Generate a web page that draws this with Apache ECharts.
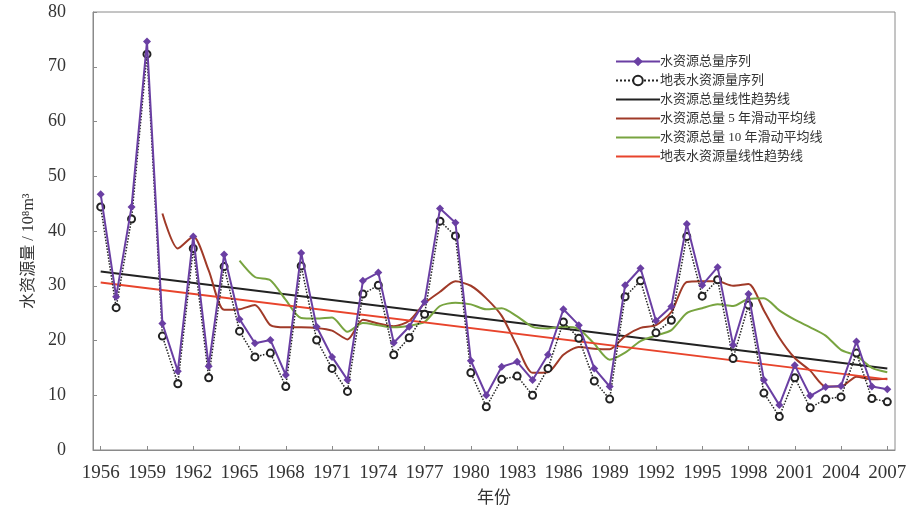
<!DOCTYPE html>
<html>
<head>
<meta charset="utf-8">
<script src="https://cdn.jsdelivr.net/npm/echarts@6/dist/echarts.min.js"></script>
<style>
html,body{margin:0;padding:0;background:#fff;}
#chart{width:914px;height:515px;}
</style>
</head>
<body>
<div id="chart"></div>
<script>
var years = [];
for (var y = 1956; y <= 2007; y++) years.push(String(y));

var seriesNames = ['水资源总量序列','地表水资源量序列','水资源总量线性趋势线','水资源总量 5 年滑动平均线','水资源总量 10 年滑动平均线','地表水资源量线性趋势线'];

var totalWater = [46.7,28.0,44.4,74.6,23.1,14.4,39.0,15.3,35.7,23.9,19.5,20.1,13.7,36.0,22.5,17.0,12.8,30.9,32.4,19.6,22.5,27.1,44.1,41.5,16.3,10.0,15.2,16.1,12.8,17.4,25.7,22.8,14.9,11.6,30.1,33.2,23.6,26.2,41.3,30.1,33.4,19.2,28.5,12.8,8.2,15.5,9.9,11.5,11.7,19.8,11.6,11.1];

var surfaceWater = [44.4,26.0,42.2,72.3,20.8,12.1,36.8,13.2,33.5,21.7,17.0,17.7,11.6,33.6,20.1,14.9,10.7,28.5,30.1,17.4,20.5,24.8,41.8,39.1,14.1,7.9,12.9,13.5,10.0,14.9,23.4,20.4,12.6,9.3,28.0,30.9,21.4,23.7,39.0,28.1,31.1,16.7,26.5,10.4,6.1,13.2,7.7,9.3,9.7,17.7,9.4,8.8];

var ma5 = [null,null,null,null,43.2,36.8,39.0,32.8,25.6,25.7,26.5,22.8,22.4,22.4,22.3,21.8,20.2,23.8,23.1,22.6,23.6,26.8,28.9,30.8,30.0,27.7,24.5,19.0,14.1,14.2,17.4,18.8,18.5,18.4,20.8,22.3,22.8,25.2,30.7,30.8,30.8,30.0,30.3,25.5,20.5,16.8,14.5,11.6,11.6,13.4,12.9,13.0];

var ma10 = [null,null,null,null,null,null,null,null,null,34.6,31.6,31.0,27.4,24.1,24.0,24.2,21.6,23.2,22.8,22.4,22.7,23.4,26.3,26.9,26.6,25.7,25.9,24.4,22.5,22.2,22.5,22.1,19.4,16.5,17.8,19.9,20.9,21.9,25.0,25.9,26.6,26.3,27.6,27.7,25.5,23.8,22.4,20.9,18.3,17.2,15.0,14.2];

// linear trend lines: values at first and last year
var totalTrendEnds = [32.6, 14.9];
var surfaceTrendEnds = [30.6, 12.9];

function endsToSeries(ends) {
  var arr = years.map(function(){ return null; });
  arr[0] = ends[0];
  arr[arr.length-1] = ends[1];
  return arr;
}

var serif = '"Liberation Serif","Times New Roman","Noto Sans CJK SC",serif';
var chart = echarts.init(document.getElementById('chart'));
chart.setOption({
  backgroundColor: '#ffffff',
  animation: false,
  grid: {left: 93, right: 19, top: 12, bottom: 65, show: true, borderColor: '#8a8a8a', borderWidth: 1, backgroundColor: '#fff'},
  legend: {
    orient: 'vertical', left: 610, top: 50,
    itemWidth: 44, itemHeight: 12, itemGap: 6,
    data: [
      {name: seriesNames[0]},
      {name: seriesNames[1], itemStyle: {color: '#222'}},
      {name: seriesNames[2], itemStyle: {opacity: 0}},
      {name: seriesNames[3], itemStyle: {opacity: 0}},
      {name: seriesNames[4], itemStyle: {opacity: 0}},
      {name: seriesNames[5], itemStyle: {opacity: 0}}
    ],
    textStyle: {fontFamily: serif, fontSize: 13, color: '#333', padding: [0,0,0,-5]}
  },
  xAxis: {
    type: 'category', data: years, boundaryGap: true,
    name: '年份', nameLocation: 'middle', nameGap: 40,
    nameTextStyle: {fontFamily: serif, fontSize: 17, color: '#333'},
    axisLine: {lineStyle: {color: '#8a8a8a'}},
    axisTick: {show: true, inside: true, length: 4, interval: 2, alignWithLabel: true, lineStyle: {color: '#8a8a8a'}},
    axisLabel: {interval: 2, margin: 14, fontFamily: serif, fontSize: 19, color: '#333'},
    splitLine: {show: false}
  },
  yAxis: {
    type: 'value', min: 0, max: 80, interval: 10,
    name: '水资源量 / 10⁸m³', nameLocation: 'middle', nameGap: 56, nameRotate: 90,
    nameTextStyle: {fontFamily: serif, fontSize: 16, color: '#333', padding: [0,0,0,-40]},
    axisLine: {show: true, lineStyle: {color: '#8a8a8a'}},
    axisTick: {show: true, inside: true, length: 4, lineStyle: {color: '#8a8a8a'}},
    axisLabel: {margin: 27, fontFamily: serif, fontSize: 18, color: '#333'},
    splitLine: {show: false}
  },
  series: [
    {name: seriesNames[0], type: 'line', data: totalWater, z: 5,
     symbol: 'diamond', symbolSize: 8,
     lineStyle: {color: '#6a3fa3', width: 2}, itemStyle: {color: '#6a3fa3'}},
    {name: seriesNames[1], type: 'line', data: surfaceWater, z: 4,
     symbol: 'emptyCircle', symbolSize: 7,
     lineStyle: {color: '#222', width: 1.5, type: 'dotted'},
     itemStyle: {color: '#222', borderColor: '#222', borderWidth: 2.5}},
    {name: seriesNames[2], type: 'line', data: endsToSeries(totalTrendEnds), connectNulls: true, z: 3,
     symbol: 'none', lineStyle: {color: '#222', width: 2}, itemStyle: {color: '#222'}},
    {name: seriesNames[3], type: 'line', data: ma5, z: 3, smooth: 0.25,
     symbol: 'none', lineStyle: {color: '#a03a28', width: 2}, itemStyle: {color: '#a03a28'}},
    {name: seriesNames[4], type: 'line', data: ma10, z: 3, smooth: 0.25,
     symbol: 'none', lineStyle: {color: '#78a440', width: 2}, itemStyle: {color: '#78a440'}},
    {name: seriesNames[5], type: 'line', data: endsToSeries(surfaceTrendEnds), connectNulls: true, z: 3,
     symbol: 'none', lineStyle: {color: '#e8442c', width: 2}, itemStyle: {color: '#e8442c'}}
  ]
});
</script>
</body>
</html>
